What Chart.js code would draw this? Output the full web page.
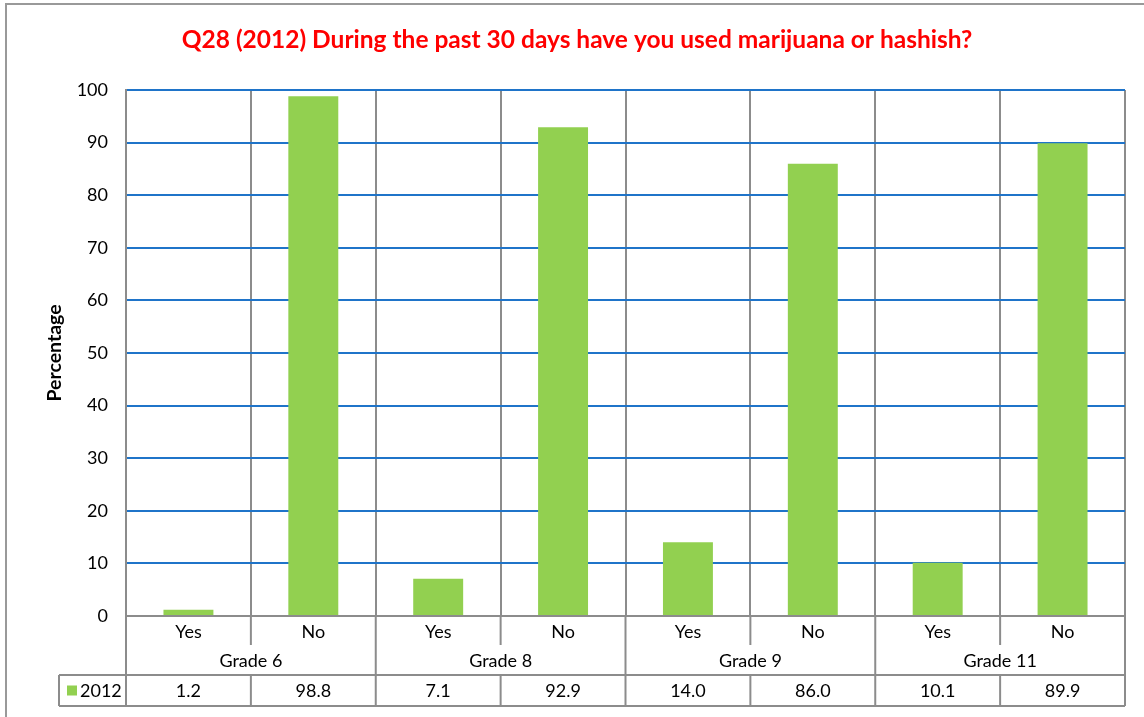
<!DOCTYPE html>
<html><head><meta charset="utf-8">
<script src="https://cdn.jsdelivr.net/npm/chart.js@4/dist/chart.umd.min.js"></script>
<style>html,body{margin:0;padding:0;background:#fff}#wrap{width:1144px;height:717px;position:relative}</style>
</head><body><div id="wrap"><canvas id="c" width="1144" height="717"></canvas></div>
<script>
const chartTitle = 'Q28 (2012) During the past 30 days have you used marijuana or hashish?';
const categories = ['Yes','No','Yes','No','Yes','No','Yes','No'];
const groups = ['Grade 6','Grade 8','Grade 9','Grade 11'];
const seriesName = '2012';
const values2012 = [1.2, 98.8, 7.1, 92.9, 14.0, 86.0, 10.1, 89.9];
const yMin = 0, yMax = 100, yStep = 10;
const yTitle = 'Percentage';

const FONT = 'Lato';
const BAR = '#92D050';
const GRAY = '#8c8c8c';
const BLUE = '#1f74c9';

const tablePlugin = {
  id: 'table',
  afterDraw(chart) {
    const ctx = chart.ctx, xs = chart.scales.x, area = chart.chartArea;
    const n = categories.length;
    const b = i => xs.getPixelForValue(i - 0.5);
    const bottom = area.bottom;
    const r1 = bottom + 29, r2 = bottom + 59, r3 = bottom + 90;
    const tableLeft = 59;
    ctx.save();
    ctx.strokeStyle = '#999';
    ctx.lineWidth = 2;
    ctx.beginPath(); ctx.moveTo(6, 717); ctx.lineTo(6, 4); ctx.lineTo(1144, 4); ctx.stroke();
    ctx.strokeStyle = GRAY;
    ctx.lineWidth = 2;
    ctx.beginPath();
    for (let i = 0; i <= n; i++) {
      const xx = b(i);
      if (i % 2 === 0) { ctx.moveTo(xx, bottom); ctx.lineTo(xx, r3); }
      else { ctx.moveTo(xx, bottom); ctx.lineTo(xx, r1); ctx.moveTo(xx, r2); ctx.lineTo(xx, r3); }
    }
    ctx.moveTo(tableLeft, r2); ctx.lineTo(b(n), r2);
    ctx.moveTo(tableLeft, r3); ctx.lineTo(b(n), r3);
    ctx.moveTo(tableLeft, r2); ctx.lineTo(tableLeft, r3);
    ctx.stroke();
    ctx.fillStyle = '#000';
    ctx.font = '18px ' + FONT;
    ctx.textAlign = 'center';
    ctx.textBaseline = 'middle';
    groups.forEach((g, k) => {
      const cx = (b(2 * k) + b(2 * k + 2)) / 2;
      ctx.fillText(g, cx, (r1 + r2) / 2 + 1);
    });
    values2012.forEach((v, i) => {
      ctx.fillText(v.toFixed(1), xs.getPixelForValue(i), (r2 + r3) / 2 + 1);
    });
    ctx.fillStyle = BAR;
    ctx.fillRect(tableLeft + 8, (r2 + r3) / 2 - 5, 10, 10);
    ctx.fillStyle = '#000';
    ctx.textAlign = 'left';
    ctx.fillText(seriesName, tableLeft + 21, (r2 + r3) / 2 + 1);
    ctx.restore();
  }
};

new Chart(document.getElementById('c'), {
  type: 'bar',
  data: {
    labels: categories,
    datasets: [{
      label: seriesName,
      data: values2012,
      backgroundColor: BAR,
      borderWidth: 0,
      barPercentage: 0.4,
      categoryPercentage: 1.0
    }]
  },
  options: {
    responsive: false,
    animation: false,
    layout: { padding: { top: 0, left: 29, right: 19, bottom: 0 } },
    plugins: {
      legend: { display: false },
      tooltip: { enabled: false },
      title: {
        display: true,
        text: chartTitle,
        color: '#ff0000',
        font: { family: FONT, size: 24.5, weight: 'bold' },
        padding: { top: 25.5, bottom: 35.1 }
      }
    },
    scales: {
      x: {
        offset: true,
        grid: { offset: true, color: GRAY, lineWidth: 2, drawTicks: false },
        border: { color: GRAY, width: 2 },
        ticks: { color: '#000', font: { family: FONT, size: 18 }, padding: 5, maxRotation: 0 },
        afterFit(s) { s.height = 101; }
      },
      y: {
        min: yMin, max: yMax,
        ticks: { stepSize: yStep, color: '#000', font: { family: FONT, size: 18 }, padding: 18 },
        grid: { color: c => (c.tick && c.tick.value === 0) ? 'rgba(0,0,0,0)' : BLUE, lineWidth: 2, drawTicks: false },
        border: { color: GRAY, width: 2 },
        title: { display: true, text: yTitle, color: '#000', font: { family: FONT, size: 19.5, weight: 'bold' }, padding: { top: 14, bottom: 0 } },
        afterFit(s) { s.width = 97; }
      }
    }
  },
  plugins: [tablePlugin]
});
</script></body></html>
